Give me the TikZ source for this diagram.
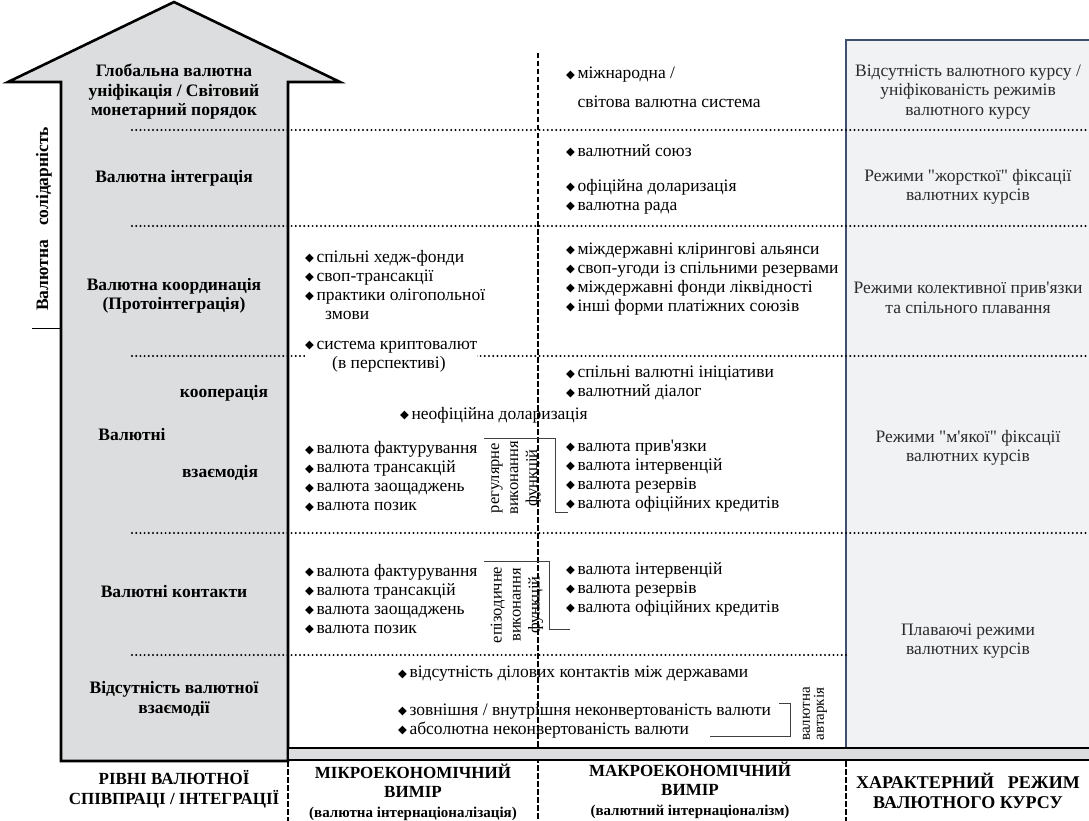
\documentclass[tikz,border=0pt]{standalone}
\usepackage{fontspec}
\setmainfont{Liberation Serif}[Ligatures=TeXOff]
\newfontfamily\symfont{DejaVu Sans}
\definecolor{arrowgray}{HTML}{DCDDDE}
\definecolor{regimefill}{HTML}{F1F2F4}
\definecolor{regimeblue}{HTML}{3E4F72}
\definecolor{inkgray}{HTML}{2B2B2B}
\newcommand{\bul}{\raisebox{0.6pt}{\symfont\fontsize{11.5}{11.5}\selectfont ◆}\hspace{2.5pt}}
\tikzset{
  lvl/.style={font=\bfseries\fontsize{17.5}{19.5}\selectfont, align=center, inner sep=0pt},
  regime/.style={font=\fontsize{17.5}{19.5}\selectfont, align=center, inner sep=0pt, text=inkgray},
  itemlist/.style={font=\fontsize{17.5}{19}\selectfont, align=left, anchor=west, inner sep=0pt},
  funclabel/.style={font=\fontsize{16.5}{19}\selectfont, align=center, rotate=90, inner sep=0pt},
  dimhead/.style={font=\bfseries\fontsize{17}{19.5}\selectfont, align=center, inner sep=0pt},
  levelsep/.style={line width=2.2pt, line cap=round, dash pattern=on 0pt off 4.2pt},
  dimsep/.style={line width=2.3pt, dash pattern=on 5.5pt off 2.5pt},
  bracketline/.style={line width=0.9pt, draw=black!75},
}
\begin{document}
\begin{tikzpicture}[x=1pt, y=-1pt, line join=miter]
	\useasboundingbox (0,0) rectangle (1089,821);
	% arrow of levels
	\draw[line width=2.6pt, fill=arrowgray] (61,761) -- (61,82) -- (8,82) -- (174,2) -- (340,82) -- (288,82) -- (288,761) -- cycle;
	\draw[line width=0.8pt] (32,328) -- (61,328);
	% column of exchange rate regimes
	\draw[line width=2pt, draw=regimeblue, fill=regimefill] (1100,40) -- (846,40) -- (846,748) -- (1100,748);
	% level separators
	\draw[levelsep] (132,130) -- (1089,130);
	\draw[levelsep] (132,226) -- (1089,226);
	\draw[levelsep] (132,356) -- (1089,356);
	\draw[levelsep] (132,533) -- (1089,533);
	\draw[levelsep] (132,655) -- (846,655);
	% dimension separators
	\draw[dimsep] (538,53) -- (538,821);
	\draw[line width=2.6pt, fill=arrowgray] (288,748) rectangle (1100,760);
	\draw[dimsep] (288,761) -- (288,821);
	\draw[dimsep] (846,761) -- (846,821);

	% levels
	\node[rotate=90, font=\bfseries\fontsize{17.5}{19}\selectfont, inner sep=0pt] (solid) at (44,219) {Валютна\hspace{14pt}солідарність};
	\node[lvl] (glob) at (174,92) {Глобальна валютна\\уніфікація / Світовий\\монетарний порядок};
	\node[lvl] (integ) at (174,178) {Валютна інтеграція};
	\node[lvl] (coord) at (174,296) {Валютна координація\\(Протоінтеграція)};
	\node[lvl] (coop) at (224,393) {кооперація};
	\node[lvl] (valinter) at (132,435) {Валютні};
	\node[lvl] (interact) at (220,473) {взаємодія};
	\node[lvl] (contact) at (174,592) {Валютні контакти};
	\node[lvl] (absent) at (174,699) {Відсутність валютної\\взаємодії};

	% microeconomic dimension
	\node[itemlist] (hedge) at (305,285) {\bul спільні хедж-фонди\\\bul своп-трансакції\\\bul практики олігопольної\\\hspace{20pt}змови};
	\node[itemlist, fill=white] (crypto) at (305,356.5) {\bul система криптовалют\\\hspace{27pt}(в перспективі)};
	\node[itemlist] (neoff) at (400,415) {\bul неофіційна доларизація};
	\node[itemlist] (microreg) at (305,476.5) {\bul валюта фактурування\\\bul валюта трансакцій\\\bul валюта заощаджень\\\bul валюта позик};
	\node[itemlist] (microepi) at (305,599) {\bul валюта фактурування\\\bul валюта трансакцій\\\bul валюта заощаджень\\\bul валюта позик};
	\node[itemlist] (nobiz) at (398,674) {\bul відсутність ділових контактів між державами};
	\node[itemlist] (inconv) at (398,721) {\bul зовнішня / внутрішня неконвертованість валюти\\\bul абсолютна неконвертованість валюти};

	% macroeconomic dimension
	\node[itemlist] (world) at (566,88) {\bul міжнародна /\\[10pt]\phantom{\bul}світова валютна система};
	\node[itemlist] (union) at (566,151) {\bul валютний союз};
	\node[itemlist] (dollar) at (566,196.5) {\bul офіційна доларизація\\\bul валютна рада};
	\node[itemlist] (clearing) at (566,279) {\bul міждержавні клірингові альянси\\\bul своп-угоди із спільними резервами\\\bul міждержавні фонди ліквідності\\\bul інші форми платіжних союзів};
	\node[itemlist] (dialog) at (566,383) {\bul спільні валютні ініціативи\\\bul валютний діалог};
	\node[itemlist] (macroreg) at (566,476) {\bul валюта прив'язки\\\bul валюта інтервенцій\\\bul валюта резервів\\\bul валюта офіційних кредитів};
	\node[itemlist] (macroepi) at (566,589) {\bul валюта інтервенцій\\\bul валюта резервів\\\bul валюта офіційних кредитів};

	% functions performed
	\node[funclabel] (regular) at (516,478) {регулярне\\виконання\\функцій};
	\draw[bracketline] (484,438) -- (555,438) -- (555,512) -- (568,512);
	\node[funclabel] (episodic) at (517,605) {епізодичне\\виконання\\функцій};
	\draw[bracketline] (484,561) -- (549,561) -- (549,629) -- (570,629);
	\node[funclabel, font=\fontsize{15}{14}\selectfont] (autarky) at (815,714) {валютна\\автаркія};
	\draw[bracketline] (779,703) -- (790,703) -- (790,736) -- (710,736);

	% exchange rate regimes
	\node[regime] (noexch) at (968,92) {Відсутність валютного курсу /\\уніфікованість режимів\\валютного курсу};
	\node[regime] (hard) at (968,187) {Режими "жорсткої" фіксації\\валютних курсів};
	\node[regime] (collect) at (968,298) {Режими колективної прив'язки\\та спільного плавання};
	\node[regime] (soft) at (968,448) {Режими "м'якої" фіксації\\валютних курсів};
	\node[regime] (float) at (968,641) {Плаваючі режими\\валютних курсів};

	% column headings
	\node[dimhead] (levelhead) at (174,789) {РІВНІ ВАЛЮТНОЇ\\СПІВПРАЦІ / ІНТЕГРАЦІЇ};
	\node[dimhead] (microhead) at (413,792) {МІКРОЕКОНОМІЧНИЙ\\ВИМІР\\{\fontsize{15}{16}\selectfont (валютна інтернаціоналізація)}};
	\node[dimhead] (macrohead) at (690,790) {МАКРОЕКОНОМІЧНИЙ\\ВИМІР\\{\fontsize{15}{16}\selectfont (валютний інтернаціоналізм)}};
	\node[dimhead, font=\bfseries\fontsize{18}{19.5}\selectfont] (regimehead) at (968,791) {ХАРАКТЕРНИЙ\hspace{14pt}РЕЖИМ\\ВАЛЮТНОГО КУРСУ};
\end{tikzpicture}
\end{document}
